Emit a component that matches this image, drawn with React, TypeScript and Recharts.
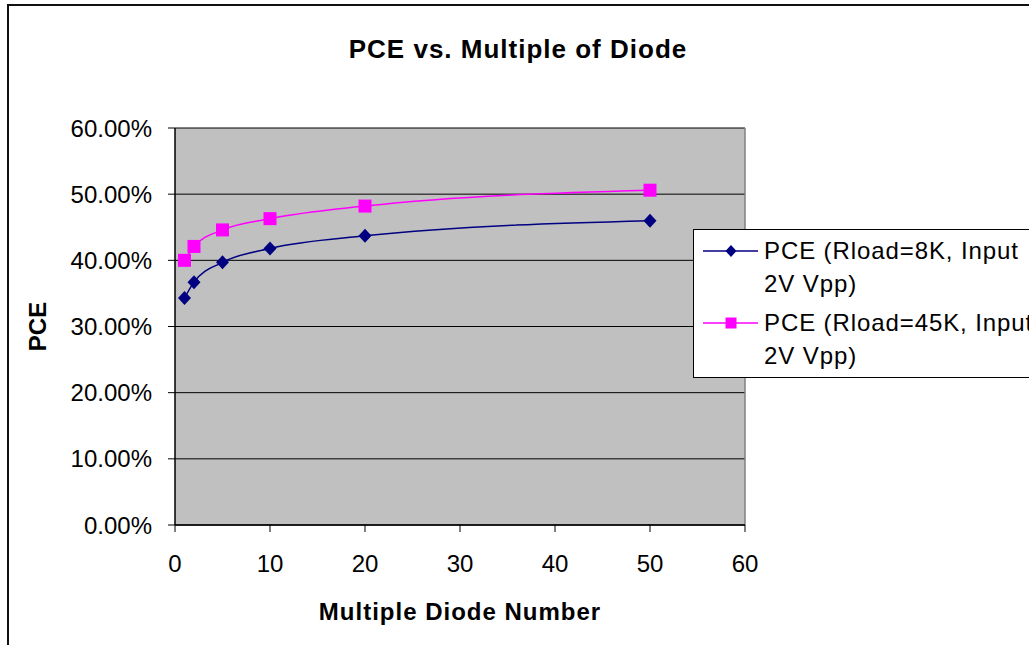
import { LineChart, Line, XAxis, YAxis, CartesianGrid, Legend, ReferenceLine } from 'recharts';

const diodes = [1, 2, 5, 10, 20, 50];
const pce8k = [0.343, 0.367, 0.397, 0.418, 0.437, 0.46];
const pce45k = [0.4, 0.421, 0.446, 0.463, 0.482, 0.506];
const xTicks = [0, 10, 20, 30, 40, 50, 60];
const yTicks = [0, 0.1, 0.2, 0.3, 0.4, 0.5, 0.6];

const NAME_8K = 'PCE (Rload=8K, Input 2V Vpp)';
const NAME_45K = 'PCE (Rload=45K, Input 2V Vpp)';

const NAVY = '#000080';
const MAGENTA = '#FF00FF';
const FONT = '"Liberation Sans", Arial, sans-serif';

const data = diodes.map((d, i) => ({ n: d, a: pce8k[i], b: pce45k[i] }));
const seriesOrder = ['a', 'b'];

const Diamond = (props: any) => {
  const { cx, cy } = props;
  if (cx == null || cy == null) return null;
  return <path key={`d${cx}`} d={`M${cx},${cy - 7}L${cx + 6.5},${cy}L${cx},${cy + 7}L${cx - 6.5},${cy}Z`} fill={NAVY} />;
};

const Square = (props: any) => {
  const { cx, cy } = props;
  if (cx == null || cy == null) return null;
  return <rect key={`s${cx}`} x={cx - 6.5} y={cy - 6.5} width={13} height={13} fill={MAGENTA} />;
};

const renderLegend = (props: any) => {
  const items = [...(props.payload || [])].sort(
    (p: any, q: any) => seriesOrder.indexOf(p.dataKey) - seriesOrder.indexOf(q.dataKey)
  );
  return (
    <div
      style={{
        border: '1px solid #000',
        background: '#fff',
        height: 149,
        boxSizing: 'border-box',
        paddingTop: 4,
        fontFamily: FONT,
        fontSize: 24,
        letterSpacing: 0.9,
        color: '#000',
      }}
    >
      {items.map((it: any, i: number) => (
        <div key={i} style={{ display: 'flex', alignItems: 'flex-start', marginBottom: 6 }}>
          <svg width={70} height={33} style={{ flex: 'none' }}>
            <line x1={9} x2={64} y1={17} y2={17} stroke={it.color} strokeWidth={1.5} />
            {it.dataKey === 'a' ? (
              <path d="M37,11L42.5,17L37,23L31.5,17Z" fill={NAVY} />
            ) : (
              <rect x={31.5} y={11.5} width={11} height={11} fill={MAGENTA} />
            )}
          </svg>
          <div style={{ width: 282, lineHeight: '33px' }}>{it.value}</div>
        </div>
      ))}
    </div>
  );
};

export default function App() {
  return (
    <div
      style={{
        position: 'fixed',
        left: 7,
        top: 4,
        width: 1024,
        height: 645,
        borderLeft: '2px solid #111',
        borderTop: '2px solid #111',
        background: '#fff',
        overflow: 'hidden',
      }}
    >
      <div
        style={{
          position: 'absolute',
          left: 0,
          width: 1018,
          top: 27,
          textAlign: 'center',
          fontFamily: FONT,
          fontWeight: 'bold',
          fontSize: 26,
          letterSpacing: 1,
          lineHeight: '32px',
          color: '#000',
        }}
      >
        PCE vs. Multiple of Diode
      </div>
      <LineChart width={1020} height={640} data={data} margin={{ top: 122, right: 284, bottom: 31, left: 66 }}>
        <CartesianGrid vertical={false} fill="#C0C0C0" stroke="#000" strokeOpacity={1} horizontalValues={yTicks} />
        <ReferenceLine x={60} stroke="#808080" strokeWidth={1.5} />
        <XAxis
          dataKey="n"
          type="number"
          domain={[0, 60]}
          ticks={xTicks}
          interval={0}
          tickSize={7}
          tickMargin={23}
          axisLine={{ stroke: '#000', strokeWidth: 1.5 }}
          tickLine={{ stroke: '#000' }}
          tick={{ fill: '#000', fontSize: 24, fontFamily: FONT }}
          height={90}
          label={{
            content: (p: any) => {
              const vb = p.viewBox;
              return (
                <text
                  x={vb.x + vb.width / 2}
                  y={vb.y + 86}
                  textAnchor="middle"
                  dominantBaseline="central"
                  fontFamily={FONT}
                  fontWeight="bold"
                  fontSize={24}
                  letterSpacing={1}
                  fill="#000"
                >
                  Multiple Diode Number
                </text>
              );
            },
          }}
        />
        <YAxis
          type="number"
          domain={[0, 0.6]}
          ticks={yTicks}
          interval={0}
          width={100}
          tickSize={7}
          tickMargin={16}
          axisLine={{ stroke: '#000', strokeWidth: 1.5 }}
          tickLine={{ stroke: '#000' }}
          tick={{ fill: '#000', fontSize: 24, fontFamily: FONT }}
          tickFormatter={(v: number) => `${(v * 100).toFixed(2)}%`}
          label={{
            content: (p: any) => {
              const vb = p.viewBox;
              const cx = vb.x - 38;
              const cy = vb.y + vb.height / 2;
              return (
                <text
                  x={cx}
                  y={cy}
                  transform={`rotate(-90, ${cx}, ${cy})`}
                  textAnchor="middle"
                  dominantBaseline="central"
                  fontFamily={FONT}
                  fontWeight="bold"
                  fontSize={24}
                  fill="#000"
                >
                  PCE
                </text>
              );
            },
          }}
        />
        <Legend
          layout="horizontal"
          verticalAlign="middle"
          align="center"
          content={renderLegend}
          wrapperStyle={{ left: 684, top: 223, width: 420, height: 149 }}
        />
        <Line
          type="monotone"
          dataKey="a"
          name={NAME_8K}
          stroke={NAVY}
          strokeWidth={1.5}
          dot={Diamond}
          activeDot={false}
          isAnimationActive={false}
        />
        <Line
          type="monotone"
          dataKey="b"
          name={NAME_45K}
          stroke={MAGENTA}
          strokeWidth={1.5}
          dot={Square}
          activeDot={false}
          isAnimationActive={false}
        />
      </LineChart>
    </div>
  );
}
